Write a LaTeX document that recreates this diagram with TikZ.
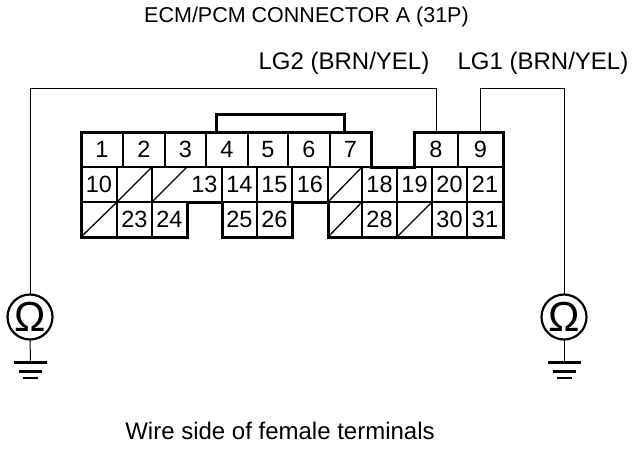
\documentclass[tikz,border=0pt]{standalone}
\usepackage{fontspec}
\setmainfont{Liberation Sans}
\tikzset{
  cell/.style={draw, line width=2pt, rectangle, inner sep=0pt, outer sep=0pt, minimum height=35pt, text height=16.8pt, text depth=0pt, font=\fontsize{23.5}{24}\selectfont},
  emptycell/.style={cell, draw=none},
  slash/.style={line width=1.3pt},
  wire/.style={line width=1pt},
  outline/.style={line width=3pt, line join=miter},
  meter/.style={draw, circle, line width=2.2pt, inner sep=0pt, outer sep=0pt, minimum size=45pt, font=\fontsize{42}{44}\selectfont},
  gndbar/.style={fill=black, rectangle, inner sep=0pt, outer sep=0pt},
  label/.style={inner sep=0pt, font=\fontsize{24}{26}\selectfont}
}
\begin{document}
\begin{tikzpicture}[x=1pt, y=-1pt]
\useasboundingbox (0,0) rectangle (640,448);

% --- Row 1 ---
\node[cell, minimum width=42pt] (c1) at (102,149.5) {1};
\node[cell, minimum width=42pt] (c2) at (144,149.5) {2};
\node[cell, minimum width=41pt] (c3) at (185.5,149.5) {3};
\node[cell, minimum width=42pt] (c4) at (227,149.5) {4};
\node[cell, minimum width=40pt] (c5) at (268,149.5) {5};
\node[cell, minimum width=42pt] (c6) at (309,149.5) {6};
\node[cell, minimum width=41pt] (c7) at (350.5,149.5) {7};
\node[cell, minimum width=44pt] (c8) at (436,149.5) {8};
\node[cell, minimum width=45pt] (c9) at (480.5,149.5) {9};

% --- Row 2 ---
\node[cell, minimum width=36pt] (c10) at (99,184.5) {10};
\node[cell, minimum width=35pt] (c11) at (134.5,184.5) {};
\node[emptycell, minimum width=35pt] (c12) at (169.5,184.5) {};
\node[emptycell, minimum width=35pt] (c13) at (204.5,184.5) {13};
\node[cell, minimum width=35pt] (c14) at (239.5,184.5) {14};
\node[cell, minimum width=35pt] (c15) at (274.5,184.5) {15};
\node[cell, minimum width=36pt] (c16) at (310,184.5) {16};
\node[cell, minimum width=34pt] (c17) at (345,184.5) {};
\node[cell, minimum width=35pt] (c18) at (379.5,184.5) {18};
\node[cell, minimum width=35pt] (c19) at (414.5,184.5) {19};
\node[cell, minimum width=35pt] (c20) at (449.5,184.5) {20};
\node[cell, minimum width=36pt] (c21) at (485,184.5) {21};

% --- Row 3 ---
\node[cell, minimum width=36pt] (c22) at (99,219.5) {};
\node[cell, minimum width=35pt] (c23) at (134.5,219.5) {23};
\node[cell, minimum width=35pt] (c24) at (169.5,219.5) {24};
\node[cell, minimum width=35pt] (c25) at (239.5,219.5) {25};
\node[cell, minimum width=35pt] (c26) at (274.5,219.5) {26};
\node[cell, minimum width=34pt] (c27) at (345,219.5) {};
\node[cell, minimum width=35pt] (c28) at (379.5,219.5) {28};
\node[cell, minimum width=35pt] (c29) at (414.5,219.5) {};
\node[cell, minimum width=35pt] (c30) at (449.5,219.5) {30};
\node[cell, minimum width=36pt] (c31) at (485,219.5) {31};

% --- Blocked terminals ---
\draw[slash] (c11.south west) -- (c11.north east);
\draw[slash] (c12.south west) -- (c12.north east);
\draw[slash] (c17.south west) -- (c17.north east);
\draw[slash] (c22.south west) -- (c22.north east);
\draw[slash] (c27.south west) -- (c27.north east);
\draw[slash] (c29.south west) -- (c29.north east);

% --- Outline ---
\draw[outline] (c1.north west) -- (c7.north east) -- (c7.south east) -- (c8.south west)
  -- (c8.north west) -- (c9.north east) -- (c31.south east) -- (c27.south west)
  -- (c27.north west) -- (c26.north east) -- (c26.south east) -- (c25.south west)
  -- (c25.north west) -- (c24.north east) -- (c24.south east) -- (c22.south west) -- cycle;

% --- Jumper ---
\coordinate (j4) at (216,114);
\coordinate (j7) at (344,114);
\draw[outline] (j4 |- c4.north) -- (j4) -- (j7) -- (j7 |- c7.north);

% --- Meters ---
\node[meter] (ohmL) at (30,317) {Ω};
\node[meter] (ohmR) at (564,317) {Ω};

\coordinate (bendL) at (30,88);
\coordinate (bend8) at (436,88);
\coordinate (bend9) at (480.5,88);
\coordinate (bendR) at (564,88);

\draw[wire] (ohmL.north) -- (bendL) -- (bend8) -- (c8.north);
\draw[wire] (c9.north) -- (bend9) -- (bendR) -- (ohmR.north);

% --- Grounds ---
\node[gndbar, minimum width=33pt, minimum height=3pt] (gndL1) at (30.5,362) {};
\node[gndbar, minimum width=23pt, minimum height=3pt] (gndL2) at (30.5,371) {};
\node[gndbar, minimum width=15pt, minimum height=2pt] (gndL3) at (30.5,378) {};
\node[gndbar, minimum width=33pt, minimum height=3pt] (gndR1) at (564,362) {};
\node[gndbar, minimum width=23pt, minimum height=3pt] (gndR2) at (564,371) {};
\node[gndbar, minimum width=15pt, minimum height=2pt] (gndR3) at (564,378) {};

\draw[wire] (ohmL.south) -- (gndL1.north);
\draw[wire] (ohmR.south) -- (gndR1.north);

% --- Labels ---
\node[label, font=\fontsize{21.5}{24}\selectfont] (title) at (306.5,17) {ECM/PCM CONNECTOR A (31P)};
\node[label] (lg2) at (344,63) {LG2 (BRN/YEL)};
\node[label] (lg1) at (543,63) {LG1 (BRN/YEL)};
\node[label] (side) at (280,431) {Wire side of female terminals};

\end{tikzpicture}
\end{document}
